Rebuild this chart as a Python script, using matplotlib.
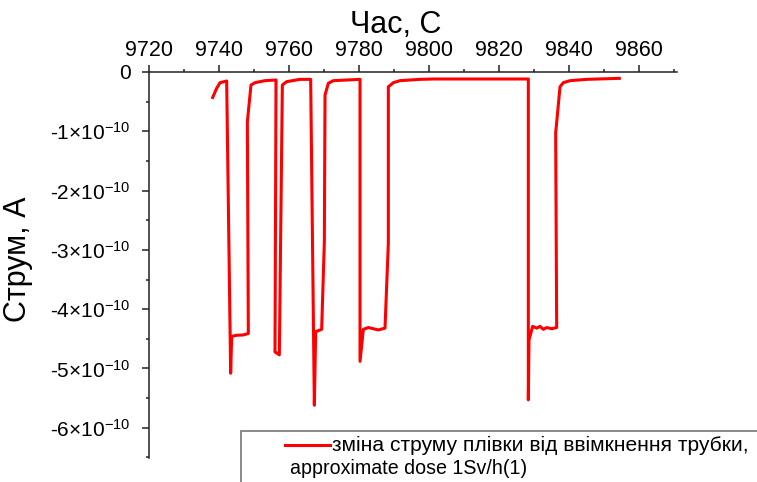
import matplotlib
matplotlib.use("Agg")
import matplotlib.pyplot as plt
from matplotlib.ticker import MultipleLocator, FixedLocator, FuncFormatter
from matplotlib.patches import Rectangle
from matplotlib.lines import Line2D

plt.rcParams['font.family'] = ['Liberation Sans', 'DejaVu Sans']
plt.rcParams['mathtext.fontset'] = 'custom'
plt.rcParams['mathtext.rm'] = 'Liberation Sans'
plt.rcParams['mathtext.it'] = 'Liberation Sans'

# Time, s
time_s = [9738.19, 9739.33, 9740.29, 9742.19, 9743.33, 9743.62, 9745.05, 9746.95,
          9748.38, 9748.10, 9749.14, 9750.29, 9753.14, 9756.29, 9756.00, 9757.24,
          9758.10, 9759.33, 9763.14, 9766.19, 9767.24, 9767.62, 9769.33, 9770.10,
          9770.29, 9771.24, 9772.67, 9780.29, 9780.29, 9781.24, 9782.67, 9785.52,
          9787.43, 9788.38, 9788.38, 9789.81, 9791.71, 9797.43, 9801.24, 9828.38,
          9828.38, 9828.57, 9829.62, 9830.76, 9831.71, 9832.67, 9833.62, 9835.05,
          9836.48, 9836.19, 9837.43, 9838.38, 9840.29, 9845.05, 9854.38]
# Current, units of 1e-10 A
current_e10 = [-0.43, -0.275, -0.18, -0.152, -5.08, -4.46, -4.44, -4.435,
               -4.41, -0.84, -0.22, -0.18, -0.146, -0.135, -4.72, -4.77,
               -0.22, -0.163, -0.124, -0.124, -5.62, -4.38, -4.34, -2.86,
               -0.39, -0.19, -0.146, -0.124, -4.88, -4.34, -4.31, -4.35,
               -4.32, -2.89, -0.25, -0.18, -0.146, -0.124, -0.118, -0.118,
               -5.53, -4.52, -4.29, -4.32, -4.29, -4.34, -4.31, -4.33,
               -4.31, -1.03, -0.25, -0.18, -0.146, -0.124, -0.107]
current_A = [v * 1e-10 for v in current_e10]

x_major_ticks = [9720, 9740, 9760, 9780, 9800, 9820, 9840, 9860]
y_major_ticks = [0, -1e-10, -2e-10, -3e-10, -4e-10, -5e-10, -6e-10]
legend_line1 = "зміна струму плівки від ввімкнення трубки,"
legend_line2 = "approximate dose 1Sv/h(1)"

W, H = 757, 482
fig = plt.figure(figsize=(W / 100, H / 100), dpi=100)
L, R, T, B = 149, 677, 72, 458
ax = fig.add_axes([L / W, 1 - B / H, (R - L) / W, (B - T) / H])

ax.plot(time_s, current_A, color='#ff0000', lw=2.2, label=legend_line1)

ax.set_xlim(9720, 9720 + (R - L) / 3.5)
ax.set_ylim(-6.51e-10, 0)

for s in ['bottom', 'right']:
    ax.spines[s].set_visible(False)
for s in ['top', 'left']:
    ax.spines[s].set_linewidth(1.1)
    ax.spines[s].set_color('#222222')

ax.xaxis.tick_top()
ax.xaxis.set_label_position('top')
ax.xaxis.set_major_locator(FixedLocator(x_major_ticks))
ax.xaxis.set_minor_locator(MultipleLocator(10))
ax.xaxis.set_major_formatter(FuncFormatter(lambda v, p: f"{v:.0f}"))

ax.yaxis.set_major_locator(FixedLocator(y_major_ticks))
ax.yaxis.set_minor_locator(MultipleLocator(0.5e-10))


def yfmt(v, p):
    n = round(v / 1e-10)
    if n == 0:
        return "0"
    return f"{n}×10" + r"$^{\mathregular{-10}}$"


ax.yaxis.set_major_formatter(FuncFormatter(yfmt))

ax.tick_params(axis='x', which='major', direction='out', length=5, width=1.1,
               labelsize=15.5, pad=3, top=True, bottom=False, colors='#222222',
               labelcolor='black')
ax.tick_params(axis='x', which='minor', direction='out', length=2.5, width=1.1,
               top=True, bottom=False, colors='#222222')
ax.tick_params(axis='y', which='major', direction='out', length=5, width=1.1,
               labelsize=15, pad=8, colors='#222222', labelcolor='black')
ax.tick_params(axis='y', which='minor', direction='out', length=2.5, width=1.1,
               colors='#222222')

ax.set_xlabel("Час, С", fontsize=22)
ax.xaxis.set_label_coords((396 - L) / (R - L), 1 + (T - 33) / (B - T))
ax.set_ylabel("Струм, А", fontsize=22, va='center', ha='center',
              rotation=90, rotation_mode='default')
ax.yaxis.set_label_coords((18 - L) / (R - L), 1 - (259 - T) / (B - T))

# Legend box (extends beyond figure edge, as in the reference)
fig.patches.append(Rectangle((241 / W, -0.1), 0.7, 1 - 431 / H + 0.1,
                             transform=fig.transFigure, facecolor='white',
                             edgecolor='#808080', lw=1.3, zorder=5))
fig.lines.append(Line2D([285 / W, 330 / W], [1 - 445 / H, 1 - 445 / H],
                        transform=fig.transFigure, color='#ff0000', lw=2.2,
                        zorder=6))
fig.text(332 / W, 1 - 445 / H, legend_line1, fontsize=15.1, va='center',
         ha='left', zorder=7)
fig.text(290 / W, 1 - 468 / H, legend_line2, fontsize=14.1, va='center',
         ha='left', zorder=7)

fig.savefig("out.png", dpi=100)
